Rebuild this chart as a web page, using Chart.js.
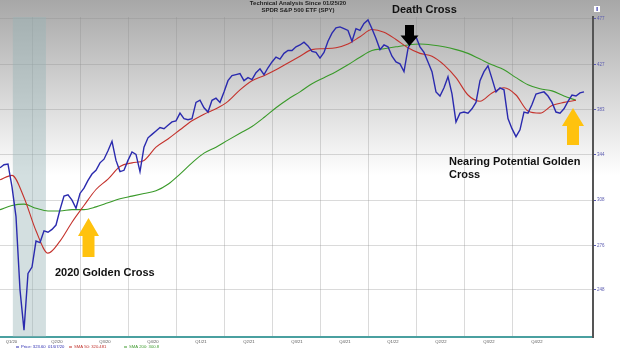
<!DOCTYPE html>
<html lang="en">
<head>
<meta charset="UTF-8" />
<title>SPY Technical Analysis</title>
<script src="https://cdn.jsdelivr.net/npm/chart.js"></script>
<style>
  html, body { margin: 0; padding: 0; background: #fff; }
  #wrap { width: 620px; height: 351px; }
</style>
</head>
<body>
<div id="wrap"><canvas id="spyChart" width="620" height="351"></canvas></div>
<script>
// x is measured in quarters from 01/01/20 (1 = start of Q2/20, 2 = start of Q3/20 ...)
const startQ = 0.3125;      // first sample, late Jan 2020
const priceStep = 1 / 12;   // about one price per week
const smaStep = 0.25;

const price = [
  333, 335.5, 336, 318, 296, 248, 225, 258, 262, 279, 278, 286,
  285, 287, 290, 301, 311, 312, 308, 302, 313, 317, 323, 328,
  331, 337, 340, 347, 355, 339, 330, 331, 339, 346, 344, 330,
  350, 358, 361, 364, 367, 366, 369, 372, 373, 380, 375, 374,
  375, 390, 392, 385, 381, 392, 394, 390, 400, 411, 416, 417,
  418, 411, 414, 412, 419, 423, 417, 424, 430, 435, 433, 439,
  442, 442, 446, 448, 451, 447, 441, 440, 434, 440, 452, 461,
  467, 468, 466, 464, 452, 466, 464, 472, 476, 466, 455, 443,
  448, 446, 436, 430, 428, 420, 444, 455, 457, 446, 440, 430,
  420, 400, 396, 404, 415, 398, 372, 380, 381, 380, 384, 390,
  411, 420, 426, 413, 400, 404, 402, 375, 366, 359, 365, 381,
  380, 388, 398, 399, 400, 396, 390, 381, 380, 384, 391, 397,
  396, 399, 400
];

const sma50 = [
  323.5, 327, 310, 286, 271, 279, 292, 304, 316, 324, 334, 337,
  339, 350, 357, 365, 373, 379, 384, 391, 402, 411, 416, 422,
  429, 436, 443, 444, 445, 449, 457, 465, 462, 454, 445, 439,
  436, 427, 414, 397, 391, 399, 404, 397, 382, 380, 387, 390,
  392
];

const sma200 = [
  301, 304, 305, 302, 300, 300, 301, 301, 303, 306, 309, 311,
  313, 315, 320, 328, 337, 345, 350, 356, 362, 368, 376, 385,
  393, 400, 408, 414, 420, 427, 435, 442, 444, 446, 448, 449,
  448, 446, 443, 439, 433, 427, 422, 414, 407, 403, 401, 396,
  392
];

const quarterLabels = ['Q1/20', 'Q2/20', 'Q3/20', 'Q4/20', 'Q1/21', 'Q2/21',
  'Q3/21', 'Q4/21', 'Q1/22', 'Q2/22', 'Q3/22', 'Q4/22'];
const yTicks = [248, 276, 308, 344, 383, 427, 477];

// shaded recession band (in quarters)
const shadeFrom = 0.58;
const shadeTo = 1.27;

const xMin = startQ;
const xMax = 12.667;
const FONT = 'Liberation Sans, Arial, sans-serif';

const toPoints = (arr, step) => arr.map((v, i) => ({ x: startQ + i * step, y: v }));

const background = {
  id: 'background',
  beforeDraw(chart) {
    const ctx = chart.ctx;
    ctx.save();
    const g = ctx.createLinearGradient(0, 0, 0, 175);
    g.addColorStop(0, '#a7a7a7');
    g.addColorStop(1, '#ffffff');
    ctx.fillStyle = g;
    ctx.fillRect(0, 0, chart.width, chart.height);
    ctx.restore();
  }
};

const shade = {
  id: 'shade',
  beforeDatasetsDraw(chart) {
    const { ctx, chartArea, scales } = chart;
    const x1 = scales.x.getPixelForValue(shadeFrom);
    const x2 = scales.x.getPixelForValue(shadeTo);
    ctx.save();
    ctx.fillStyle = 'rgba(150,178,182,0.42)';
    ctx.fillRect(x1, chartArea.top, x2 - x1, chartArea.bottom - chartArea.top);
    ctx.restore();
  }
};

function upArrow(ctx, left, right, tip, base, sLeft, sRight, bottom, color) {
  ctx.fillStyle = color;
  ctx.beginPath();
  ctx.moveTo((left + right) / 2, tip);
  ctx.lineTo(right, base);
  ctx.lineTo(sRight, base);
  ctx.lineTo(sRight, bottom);
  ctx.lineTo(sLeft, bottom);
  ctx.lineTo(sLeft, base);
  ctx.lineTo(left, base);
  ctx.closePath();
  ctx.fill();
}

const notes = {
  id: 'notes',
  afterDraw(chart) {
    const ctx = chart.ctx;
    ctx.save();

    // title
    ctx.fillStyle = '#222';
    ctx.textAlign = 'center';
    ctx.textBaseline = 'middle';
    ctx.font = 'bold 6px ' + FONT;
    ctx.fillText('Technical Analysis Since 01/25/20', 298, 3.5);
    ctx.fillText('SPDR S&P 500 ETF (SPY)', 298, 10.5);

    // annotations
    ctx.fillStyle = '#111';
    ctx.textAlign = 'left';
    ctx.font = 'bold 11px ' + FONT;
    ctx.fillText('Death Cross', 392, 9.5);
    ctx.fillText('2020 Golden Cross', 55, 273);
    ctx.fillText('Nearing Potential Golden', 449, 162);
    ctx.fillText('Cross', 449, 174.5);

    upArrow(ctx, 78, 99, 218, 236, 82.5, 94.5, 257, '#ffc20e');
    upArrow(ctx, 562, 584, 108, 126, 567, 579, 145, '#ffc20e');

    // black down arrow
    ctx.fillStyle = '#000';
    ctx.beginPath();
    ctx.moveTo(405, 25);
    ctx.lineTo(414, 25);
    ctx.lineTo(414, 35.5);
    ctx.lineTo(418.5, 35.5);
    ctx.lineTo(409.5, 46);
    ctx.lineTo(400.5, 35.5);
    ctx.lineTo(405, 35.5);
    ctx.closePath();
    ctx.fill();

    // small marker at top of the axis
    ctx.fillStyle = '#fff';
    ctx.fillRect(594, 6, 6, 6);
    ctx.fillStyle = '#3a3ab0';
    ctx.fillRect(596.5, 7, 1.2, 4);

    // legend strip
    ctx.font = '4.2px ' + FONT;
    ctx.textBaseline = 'middle';
    const items = [
      { x: 16, c: '#2b2bb0', t: 'Price: 323.60  01/07/20' },
      { x: 69, c: '#c0302a', t: 'SMA 50: 320.481' },
      { x: 124, c: '#3c9a2c', t: 'SMA 200: 300.8' }
    ];
    items.forEach(it => {
      ctx.fillStyle = it.c;
      ctx.fillRect(it.x, 346.5, 3, 1);
      ctx.fillText(it.t, it.x + 5, 347);
    });

    ctx.restore();
  }
};

new Chart(document.getElementById('spyChart').getContext('2d'), {
  type: 'line',
  data: {
    datasets: [
      {
        label: 'Price',
        data: toPoints(price, priceStep),
        borderColor: '#2a2aae',
        borderWidth: 1.4,
        pointRadius: 0,
        tension: 0
      },
      {
        label: 'SMA 50',
        data: toPoints(sma50, smaStep),
        borderColor: '#c4322c',
        borderWidth: 1.1,
        pointRadius: 0,
        cubicInterpolationMode: 'monotone'
      },
      {
        label: 'SMA 200',
        data: toPoints(sma200, smaStep),
        borderColor: '#3a9a2a',
        borderWidth: 1.1,
        pointRadius: 0,
        cubicInterpolationMode: 'monotone'
      }
    ]
  },
  options: {
    responsive: false,
    animation: false,
    events: [],
    layout: { padding: { top: 17, left: 0, right: 0, bottom: 0 } },
    plugins: { legend: { display: false }, tooltip: { enabled: false } },
    scales: {
      x: {
        type: 'linear',
        position: 'bottom',
        weight: 0,
        min: xMin,
        max: xMax,
        afterBuildTicks: s => { s.ticks = quarterLabels.slice(1).map((_, i) => ({ value: i + 1 })); },
        afterFit: s => { s.height = 1; },
        ticks: { display: false },
        grid: { color: 'rgba(140,140,140,0.32)', drawTicks: false },
        border: { color: '#4aa0a0', width: 2 }
      },
      xq: {
        type: 'linear',
        position: 'bottom',
        weight: 1,
        min: xMin,
        max: xMax,
        // first label is nudged inside the plot, others sit mid-quarter
        afterBuildTicks: s => { s.ticks = quarterLabels.map((_, i) => ({ value: i === 0 ? 0.55 : i + 0.5 })); },
        afterFit: s => { s.height = 13; },
        ticks: {
          callback: (v, i) => quarterLabels[i],
          autoSkip: false,
          maxRotation: 0,
          padding: 1.5,
          color: '#555',
          font: { size: 4.2, family: FONT }
        },
        grid: { display: false, drawTicks: false },
        border: { display: false }
      },
      y: {
        type: 'logarithmic',
        position: 'right',
        min: 221.3,
        max: 479.3,
        afterBuildTicks: s => { s.ticks = yTicks.map(v => ({ value: v })); },
        afterFit: s => { s.width = 27; },
        ticks: {
          callback: v => String(v),
          autoSkip: false,
          padding: 1,
          color: '#5b5bb0',
          font: { size: 4.5, family: FONT }
        },
        grid: { color: 'rgba(140,140,140,0.32)', tickLength: 3, tickColor: '#5b5bb0' },
        border: { color: '#555', width: 2 }
      }
    }
  },
  plugins: [background, shade, notes]
});
</script>
</body>
</html>
